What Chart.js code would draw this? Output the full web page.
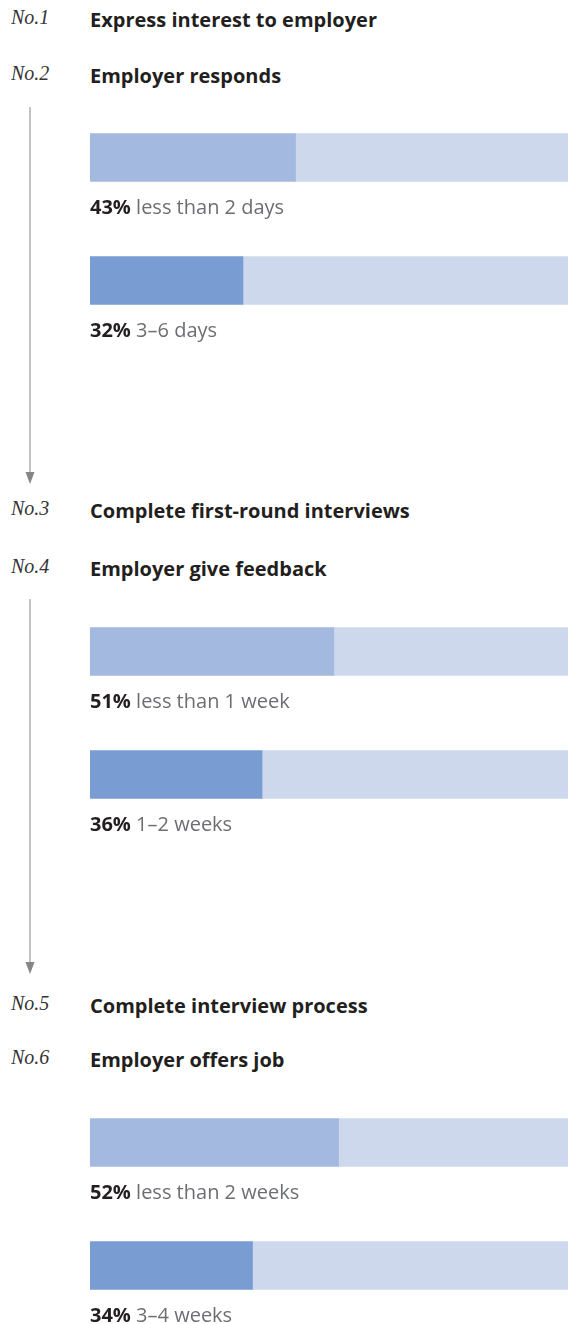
<!doctype html>
<html lang="en">
<head>
  <meta charset="utf-8">
  <meta name="viewport" content="width=device-width, initial-scale=1">
  <title>Employer response times</title>
  <style>
    html, body { margin: 0; padding: 0; background: #fff; }
    .page { position: relative; width: 568px; height: 1324px; overflow: hidden; }
    .step { position: absolute; left: 0; height: 24px; line-height: 24px; white-space: nowrap; }
    .step .no { position: absolute; left: 11px; font: italic 20px "Liberation Serif", serif; color: #333; }
    .step .title { position: absolute; left: 90px; font: bold 20px "Open Sans", sans-serif; color: #231f20; }
    .arrow { position: absolute; left: 24px; width: 12px; }
    .group { position: absolute; left: 90px; }
  </style>
</head>
<body>
<div class="page" id="page"></div>

<script src="https://cdn.jsdelivr.net/npm/chart.js@4/dist/chart.umd.min.js"></script>
<script>
  // steps of the hiring process
  const stepNos = ['No.1', 'No.2', 'No.3', 'No.4', 'No.5', 'No.6'];
  const stepTitles = [
    'Express interest to employer',
    'Employer responds',
    'Complete first-round interviews',
    'Employer give feedback',
    'Complete interview process',
    'Employer offers job'
  ];

  // share of respondents (%) per waiting time
  const respondLabels = ['less than 2 days', '3–6 days'];
  const respondShares = [43, 32];
  const feedbackLabels = ['less than 1 week', '1–2 weeks'];
  const feedbackShares = [51, 36];
  const offerLabels = ['less than 2 weeks', '3–4 weeks'];
  const offerShares = [52, 34];

  const COLORS = { first: '#a3b9df', second: '#799cd2', track: '#cdd8ec' };

  const page = document.getElementById('page');

  function addStep(i, centerY) {
    const el = document.createElement('div');
    el.className = 'step';
    el.style.top = (centerY - 12) + 'px';
    el.innerHTML = '<span class="no"></span><span class="title"></span>';
    el.querySelector('.no').textContent = stepNos[i];
    el.querySelector('.title').textContent = stepTitles[i];
    page.appendChild(el);
  }

  function addArrow(top, bottom) {
    const h = bottom - top;
    const wrap = document.createElement('div');
    wrap.className = 'arrow';
    wrap.style.top = top + 'px';
    wrap.style.height = h + 'px';
    wrap.innerHTML =
      '<svg width="12" height="' + h + '">' +
      '<line x1="6" y1="0" x2="6" y2="' + (h - 10) + '" stroke="#c3c3c3" stroke-width="2"/>' +
      '<polygon points="1.5,' + (h - 12) + ' 10.5,' + (h - 12) + ' 6,' + h + '" fill="#858585"/>' +
      '</svg>';
    page.appendChild(wrap);
  }

  // percentage + description under each bar
  const barLabels = {
    id: 'barLabels',
    afterDatasetsDraw(chart) {
      const ctx = chart.ctx;
      const meta = chart.getDatasetMeta(0);
      ctx.save();
      ctx.textBaseline = 'alphabetic';
      meta.data.forEach((bar, i) => {
        const y = bar.y + bar.height / 2 + 32;
        const pct = chart.data.datasets[0].data[i] + '%';
        let x = chart.chartArea.left;
        ctx.font = 'bold 20px "Open Sans", sans-serif';
        ctx.fillStyle = '#231f20';
        ctx.fillText(pct, x, y);
        x += ctx.measureText(pct + ' ').width;
        ctx.font = '20px "Open Sans", sans-serif';
        ctx.fillStyle = '#6d6e71';
        ctx.fillText(chart.data.labels[i], x, y);
      });
      ctx.restore();
    }
  };

  function addGroup(top, labels, shares) {
    const box = document.createElement('div');
    box.className = 'group';
    box.style.top = top + 'px';
    const canvas = document.createElement('canvas');
    canvas.width = 478;
    canvas.height = 270;
    box.appendChild(canvas);
    page.appendChild(box);

    new Chart(canvas, {
      type: 'bar',
      data: {
        labels: labels,
        datasets: [
          {
            data: shares,
            backgroundColor: [COLORS.first, COLORS.second],
            barThickness: 48,
            stack: 'share'
          },
          {
            // remainder of the 100% track
            data: shares.map(v => 100 - v),
            backgroundColor: COLORS.track,
            barThickness: 48,
            stack: 'share'
          }
        ]
      },
      options: {
        indexAxis: 'y',
        responsive: false,
        animation: false,
        layout: { padding: { bottom: 24 } },
        scales: {
          x: { stacked: true, min: 0, max: 100, display: false },
          y: { stacked: true, display: false }
        },
        plugins: {
          legend: { display: false },
          tooltip: { enabled: false }
        }
      },
      plugins: [barLabels]
    });
  }

  addStep(0, 18);
  addStep(1, 74);
  addArrow(107, 484);
  addGroup(96, respondLabels, respondShares);

  addStep(2, 509);
  addStep(3, 567);
  addArrow(599, 974);
  addGroup(590, feedbackLabels, feedbackShares);

  addStep(4, 1004);
  addStep(5, 1058);
  addGroup(1081, offerLabels, offerShares);
</script>
</body>
</html>
